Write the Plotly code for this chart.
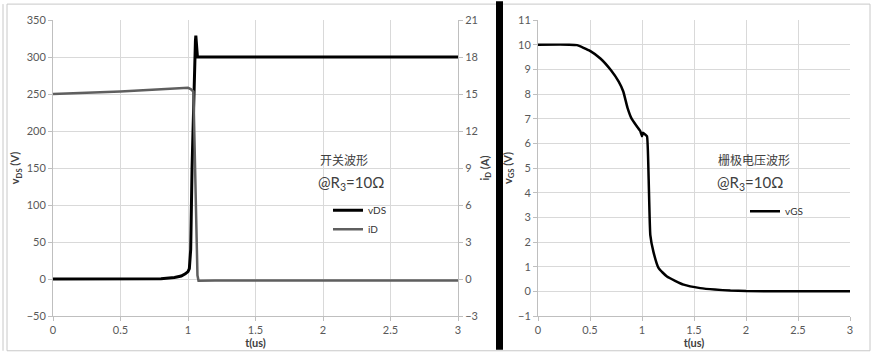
import plotly.graph_objects as go

# ---- data ----
t_vds = [0, 0.5, 0.8, 0.9, 0.95, 0.98, 1.0, 1.01, 1.02, 1.03, 1.045, 1.055, 1.058, 1.062, 1.066, 1.07, 1.1, 1.5, 2.0, 2.5, 3.0]
v_ds = [0, 0, 0.5, 2, 4, 7, 10, 14, 40, 150, 280, 322, 329, 315, 303, 300, 300, 300, 300, 300, 300]

t_id = [0, 0.5, 1.0, 1.02, 1.04, 1.05, 1.06, 1.07, 1.078, 1.2, 2.0, 3.0]
i_d = [15, 15.2, 15.5, 15.4, 15.2, 10, 3, 0.3, -0.15, -0.13, -0.12, -0.12]

t_vgs = [0, 0.3, 0.375, 0.5, 0.6, 0.7, 0.776, 0.82, 0.86, 0.9, 0.95, 0.984, 1.0, 1.01, 1.03, 1.048, 1.064,
         1.08, 1.11, 1.16, 1.24, 1.4, 1.56, 1.7, 1.85, 2.0, 2.5, 3.0]
v_gs = [10, 10, 9.98, 9.75, 9.44, 8.97, 8.5, 8.1, 7.45, 7.0, 6.69, 6.49, 6.29, 6.43, 6.36, 6.29, 4.55,
        2.28, 1.6, 0.94, 0.6, 0.27, 0.13, 0.07, 0.03, 0.01, 0.0, 0.0]

x_ticks = [0, 0.5, 1, 1.5, 2, 2.5, 3]
x_ticklabels = ["0", "0.5", "1", "1.5", "2", "2.5", "3"]

# ---- layout helpers ----
W, H = 875, 358
ML, MR, MT, MB = 53, 25, 20, 40
PW, PH = W - ML - MR, H - MT - MB


def px(x):
    return (x - ML) / PW


def py(y):
    return (MT + PH - y) / PH


GRID = "#d9d9d9"
AXL = "#bfbfbf"
TICKF = dict(family="Lato, Open Sans, sans-serif", size=11, color="#595959")
TITLEF = dict(family="Lato, Open Sans, sans-serif", size=11, color="#404040")

fig = go.Figure()
fig.add_trace(go.Scatter(x=t_vds, y=v_ds, mode="lines", name="vDS",
                         line=dict(color="#000000", width=3), xaxis="x", yaxis="y", legend="legend"))
fig.add_trace(go.Scatter(x=t_id, y=i_d, mode="lines", name="iD",
                         line=dict(color="#5f5f5f", width=2.5), xaxis="x", yaxis="y2", legend="legend"))
fig.add_trace(go.Scatter(x=t_vgs, y=v_gs, mode="lines", name="vGS", line_shape="spline",
                         line=dict(color="#000000", width=2.5, smoothing=0.4), xaxis="x2", yaxis="y3",
                         legend="legend2"))

common_x = dict(range=[0, 3], tickvals=x_ticks, ticktext=x_ticklabels, showgrid=True, gridcolor=GRID,
                showline=True, linecolor=AXL, ticks="outside", ticklen=4, tickcolor=AXL,
                tickfont=TICKF, zeroline=False,
                title=dict(text="<b>t(us)</b>", font=TITLEF, standoff=2))

fig.update_layout(
    width=W, height=H,
    margin=dict(l=ML, r=MR, t=MT, b=MB),
    paper_bgcolor="white", plot_bgcolor="white",
    xaxis=dict(domain=[0, px(458)], anchor="y", **common_x),
    xaxis2=dict(domain=[px(538), 1], anchor="y3", **common_x),
    yaxis=dict(range=[-50, 350], dtick=50, showgrid=True, gridcolor=GRID, showline=True, linecolor=AXL,
               ticks="outside", ticklen=4, tickcolor=AXL, tickfont=TICKF, zeroline=False,
               title=dict(text="<b>v<sub>DS</sub> (V)</b>", font=TITLEF, standoff=4)),
    yaxis2=dict(range=[-3, 21], dtick=3, overlaying="y", side="right", anchor="x", showgrid=False,
                showline=True, linecolor=AXL, ticks="outside", ticklen=4, tickcolor=AXL, tickfont=TICKF,
                zeroline=False, title=dict(text="<b>i<sub>D</sub> (A)</b>", font=TITLEF, standoff=4)),
    yaxis3=dict(range=[-1, 11], dtick=1, anchor="x2", showgrid=True, gridcolor=GRID, showline=True,
                linecolor=AXL, ticks="outside", ticklen=4, tickcolor=AXL, tickfont=TICKF, zeroline=False,
                title=dict(text="<b>v<sub>GS</sub> (V)</b>", font=TITLEF, standoff=3)),
    legend=dict(x=px(328), y=py(197), xanchor="left", yanchor="top", bgcolor="rgba(0,0,0,0)",
                font=dict(family="Lato, Open Sans, sans-serif", size=10, color="#333333"),
                itemwidth=30, tracegroupgap=0),
    legend2=dict(x=px(745), y=py(198), xanchor="left", yanchor="top", bgcolor="rgba(0,0,0,0)",
                 font=dict(family="Lato, Open Sans, sans-serif", size=10, color="#333333"),
                 itemwidth=30),
    showlegend=True,
)

ANF = dict(family="Noto Sans CJK SC, sans-serif", size=12, color="#404040")
ANF2 = dict(family="Lato, Open Sans, sans-serif", size=15, color="#404040")
annotations = [
    dict(text="开关波形", x=px(318), y=py(160), font=ANF),
    dict(text="@R<sub>3</sub>=10Ω", x=px(316), y=py(184), font=ANF2),
    dict(text="栅极电压波形", x=px(716), y=py(160), font=ANF),
    dict(text="@R<sub>3</sub>=10Ω", x=px(715), y=py(184), font=ANF2),
]
for a in annotations:
    fig.add_annotation(xref="paper", yref="paper", xanchor="left", yanchor="middle", showarrow=False, **a)

# frame and separator
fig.add_shape(type="rect", xref="paper", yref="paper", x0=px(7), x1=px(870), y0=py(353), y1=py(4),
              line=dict(color="#c8c8c8", width=1), layer="below")
fig.add_shape(type="line", xref="paper", yref="paper", x0=px(3), x1=px(3), y0=py(353), y1=py(4),
              line=dict(color="#c8c8c8", width=1), layer="below")
fig.add_shape(type="rect", xref="paper", yref="paper", x0=px(496), x1=px(503), y0=py(352), y1=py(1),
              line=dict(width=0), fillcolor="#000000", layer="above")

fig.write_html("out.html", config={"displayModeBar": False},
               post_script="document.body.style.margin='0';document.body.style.padding='0';")
